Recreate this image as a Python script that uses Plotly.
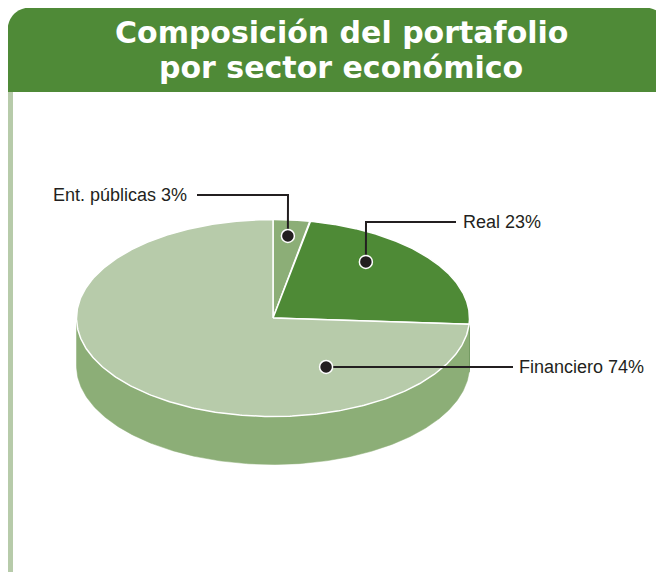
import numpy as np
import plotly.graph_objects as go

# ---- data ----
sectors = ["Ent. públicas", "Real", "Financiero"]
shares = [3, 23, 74]
title_lines = ["Composición del portafolio", "por sector económico"]

# ---- styles ----
top_colors = ["#8cae77", "#4e8a36", "#b7cbaa"]
side_colors = ["#7a9c66", "#3f7129", "#8cae77"]
HEADER = "#4f8a37"
BAR = "#b7cbaa"
INK = "#231f20"
FONT = "Liberation Sans, Arial, sans-serif"
TFONT = "DejaVu Sans, Liberation Sans, sans-serif"

W, H = 664, 572
OFF = 8  # page body margin compensation
CX, CY, RX, RY, DEPTH = 273, 318, 196.5, 98.5, 48
START = 90.0


def pt(theta_deg, r=1.0, dz=0.0):
    t = np.radians(theta_deg)
    return CX + RX * r * np.cos(t), CY - RY * r * np.sin(t) + dz


total = float(sum(shares))
bounds = []
a = START
for s in shares:
    a1 = a - s / total * 360.0
    bounds.append((a, a1))
    a = a1

fig = go.Figure()

# side (visible front half) per slice
for (a0, a1), col in zip(bounds, side_colors):
    th = np.linspace(a1, a0, 400)
    vis = np.sin(np.radians(th)) <= 1e-9
    if not vis.any():
        continue
    thv = th[vis]
    xs_t, ys_t = pt(thv)
    xs_b, ys_b = pt(thv[::-1], dz=DEPTH)
    xs = np.concatenate([xs_t, xs_b, xs_t[:1]])
    ys = np.concatenate([ys_t, ys_b, ys_t[:1]])
    fig.add_trace(go.Scatter(x=xs, y=ys, mode="lines", fill="toself",
                             fillcolor=col, line=dict(color=col, width=0.5),
                             hoverinfo="skip", showlegend=False))

# top slices
for (a0, a1), col, name in zip(bounds, top_colors, sectors):
    th = np.linspace(a0, a1, 400)
    ax, ay = pt(th)
    xs = np.concatenate([[CX], ax, [CX]])
    ys = np.concatenate([[CY], ay, [CY]])
    fig.add_trace(go.Scatter(x=xs, y=ys, mode="lines", fill="toself",
                             fillcolor=col, line=dict(color="white", width=1.5),
                             name=name, hoverinfo="skip", showlegend=False))

# callouts: dot position on the pie (angle, radial fraction), leader path, text anchor
callouts = [
    dict(dot=(84.8, 0.836), path=[(288, 195), (197, 195)], text=(189, 195), anchor="right"),
    dict(dot=(50.3, 0.74), path=[(366, 222), (456, 222)], text=(461, 222), anchor="left"),
    dict(dot=(-61.5, 0.566), path=[(513, 367)], text=(517, 367), anchor="left"),
]
for i, c in enumerate(callouts):
    dx, dy = pt(c["dot"][0], c["dot"][1])
    c["dxy"] = (dx, dy)
    px = [dx] + [p[0] for p in c["path"]]
    py = [dy] + [p[1] for p in c["path"]]
    fig.add_trace(go.Scatter(x=px, y=py, mode="lines",
                             line=dict(color=INK, width=2),
                             hoverinfo="skip", showlegend=False))
for i, c in enumerate(callouts):
    dx, dy = c["dxy"]
    fig.add_trace(go.Scatter(x=[dx], y=[dy], mode="markers",
                             marker=dict(size=13, color=INK,
                                         line=dict(color="white", width=1.5)),
                             hoverinfo="skip", showlegend=False))
    fig.add_annotation(x=c["text"][0], y=c["text"][1], xref="x", yref="y",
                       text=f"{sectors[i]} {shares[i]}%", showarrow=False,
                       xanchor=c["anchor"], yanchor="middle",
                       font=dict(family=FONT, size=18, color=INK))

# header and side bar
fig.add_shape(type="path",
              path="M 7,92 L 7,35 Q 7,7 35,7 L 640,7 Q 668,7 668,35 L 668,92 Z",
              xref="x", yref="y", fillcolor=HEADER, line=dict(width=0), layer="below")
fig.add_shape(type="rect", x0=8, x1=13, y0=92, y1=580, xref="x", yref="y",
              fillcolor=BAR, line=dict(width=0), layer="below")
for k, line in enumerate(title_lines):
    fig.add_annotation(x=341, y=32 + k * 35, xref="x", yref="y", text=f"<b>{line}</b>",
                       showarrow=False, xanchor="center", yanchor="middle",
                       font=dict(family=TFONT, size=30, color="white"))

fig.update_layout(
    width=W, height=H, margin=dict(l=0, r=0, t=0, b=0),
    paper_bgcolor="white", plot_bgcolor="white",
    xaxis=dict(range=[OFF, W + OFF], visible=False, fixedrange=True),
    yaxis=dict(range=[H + OFF, OFF], visible=False, fixedrange=True),
    showlegend=False,
)
fig.write_html("out.html")
